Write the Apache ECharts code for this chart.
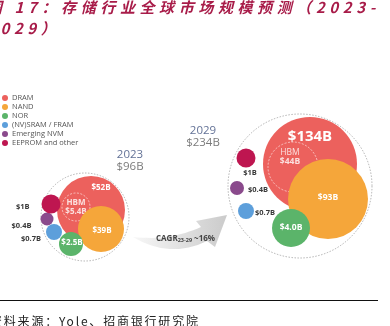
<!DOCTYPE html>
<html>
<head>
<meta charset="utf-8">
<script src="https://cdn.jsdelivr.net/npm/echarts@6/dist/echarts.min.js"></script>
<style>
html,body{margin:0;padding:0;background:#fff;}
#chart{width:390px;height:326px;}
</style>
</head>
<body>
<div id="chart"></div>
<script>
// ---------- data ----------
const titleLine1 = '图 17：存储行业全球市场规模预测（2023-';
const titleLine2 = '2029）';
const sourceText = '资料来源：Yole、招商银行研究院';
const categories = ['DRAM', 'NAND', 'NOR', '(NV)SRAM / FRAM', 'Emerging NVM', 'EEPROM and other'];
const years = ['2023', '2029'];
const values2023 = [52, 39, 2.5, 0.7, 0.4, 1];
const values2029 = [134, 93, 4.0, 0.7, 0.4, 1];
const hbmValues = [5.4, 44];
const totals = [96, 234];
const cagrPeriod = '23-29';
const cagrValue = '~16%';

// ---------- layout (positions / sizes, pixel units of the hidden grid) ----------
const clusterLayout = [{cx: 85, cy: 217, r: 44}, {cx: 300, cy: 186, r: 72}];
const bubbleLayout = [
  // [cx, cy, r] for 2023, 2029
  [[91, 210, 34], [310, 164, 47]],   // DRAM
  [[101, 229, 23], [328, 199, 40]],  // NAND
  [[71, 244, 12], [291, 228, 19]],   // NOR
  [[54, 232, 8], [246, 211, 8]],     // SRAM
  [[47, 219, 6.5], [237, 188, 7]],   // Emerging
  [[51, 204, 9.5], [246, 158, 9.5]]  // EEPROM
];
const hbmLayout = [[76, 207, 14], [293, 167, 25]];
const colors = ['#ec615d', '#f5a63a', '#5bb46a', '#5d9fdb', '#8a4a8c', '#be1650'];

// letter spacing for the report-style title/source text
const SPACED = {};
SPACED[titleLine1] = 4.6; SPACED[titleLine2] = 4.6; SPACED[sourceText] = 1.8;
const origFill = CanvasRenderingContext2D.prototype.fillText;
CanvasRenderingContext2D.prototype.fillText = function (t, x, y, m) {
  const ls = SPACED[t];
  const args = Array.prototype.slice.call(arguments);
  if (ls != null && 'letterSpacing' in this) {
    this.save();
    this.letterSpacing = ls + 'px';
    origFill.apply(this, args);
    this.letterSpacing = '0px';
    this.restore();
    const f = this.font; this.font = f;
  } else {
    origFill.apply(this, args);
  }
};

function fmt(v) { return '$' + ((v >= 2 && v < 10) ? v.toFixed(1) : String(v)) + 'B'; }

const FONT = 'Open Sans';
const whiteLbl = (size, extra) => Object.assign({show: true, position: 'inside', color: '#fff', fontWeight: 'bold', fontSize: size, fontFamily: FONT}, extra || {});
const darkLbl = (extra) => Object.assign({show: true, color: '#3a3a3a', fontWeight: 'bold', fontSize: 7.5, fontFamily: FONT}, extra || {});

// label settings per category/year
const labelCfg = [
  [whiteLbl(8, {offset: [10, -22]}), whiteLbl(15, {offset: [0, -27]})],
  [whiteLbl(8, {offset: [1, 2]}), whiteLbl(8.5, {offset: [0, -1]})],
  [whiteLbl(8, {offset: [1, -1]}), whiteLbl(8.5, {offset: [0, 0]})],
  [darkLbl({position: 'left', distance: 5, offset: [0, 7]}), darkLbl({position: 'right', distance: 1, offset: [0, 2]})],
  [darkLbl({position: 'left', distance: 9, offset: [0, 7]}), darkLbl({position: 'right', distance: 4, offset: [0, 2]})],
  [darkLbl({position: 'left', distance: 12, offset: [0, 3]}), darkLbl({position: 'bottom', distance: 1, offset: [4, 0]})]
];
const zOrder = [3, 5, 6, 6, 6, 6];

const series = [];
// outer dotted cluster circles
series.push({
  type: 'scatter', name: 'total', z: 1, silent: true,
  data: years.map((y, k) => ({
    value: [clusterLayout[k].cx, clusterLayout[k].cy, totals[k]],
    symbolSize: clusterLayout[k].r * 2,
    label: {
      show: true, position: 'inside',
      offset: k === 0 ? [45, -56] : [-97, -49],
      formatter: '{y|' + y + '}\n{t|$' + totals[k] + 'B}',
      rich: {
        y: {fontSize: 11.5, color: '#3b4d7c', fontFamily: FONT, lineHeight: 12, align: 'center'},
        t: {fontSize: 11.5, color: '#5a5a5a', fontFamily: FONT, lineHeight: 12, align: 'center'}
      }
    }
  })),
  itemStyle: {color: 'rgba(255,255,255,0)', borderColor: '#8a8a8a', borderWidth: 0.8, borderType: [1.5, 1.5]}
});

categories.forEach((c, i) => {
  const vals = [values2023[i], values2029[i]];
  series.push({
    type: 'scatter', name: c, z: zOrder[i], silent: true,
    itemStyle: {color: colors[i], opacity: 1},
    data: years.map((y, k) => {
      const L = bubbleLayout[i][k];
      return {
        value: [L[0], L[1], vals[k]],
        symbolSize: L[2] * 2,
        label: Object.assign({formatter: fmt(vals[k])}, labelCfg[i][k])
      };
    })
  });
});

// HBM dashed sub-circle (part of DRAM)
series.push({
  type: 'scatter', name: 'HBM', z: 4, silent: true,
  itemStyle: {color: 'rgba(255,255,255,0)', borderColor: 'rgba(255,255,255,0.9)', borderWidth: 0.8, borderType: [2, 1.5]},
  data: years.map((y, k) => ({
    value: [hbmLayout[k][0], hbmLayout[k][1], hbmValues[k]],
    symbolSize: hbmLayout[k][2] * 2,
    label: {
      show: true, position: 'inside',
      offset: k === 0 ? [0, 0] : [-3, -10],
      formatter: '{h|HBM}\n{v|' + fmt(hbmValues[k]) + '}',
      rich: {
        h: {color: '#fff', fontSize: k === 0 ? 8 : 8.5, fontWeight: k === 0 ? 'bold' : 'normal', fontFamily: FONT, lineHeight: 9.5, align: 'center'},
        v: {color: '#fff', fontSize: k === 0 ? 8 : 8.5, fontWeight: 'bold', fontFamily: FONT, lineHeight: 9.5, align: 'center'}
      }
    }
  }))
});

// arrow geometry (decorative)
function quad(p0, p1, p2, n) {
  const pts = [];
  for (let s = 0; s <= n; s++) {
    const t = s / n, a = (1 - t) * (1 - t), b = 2 * (1 - t) * t, d = t * t;
    pts.push([a * p0[0] + b * p1[0] + d * p2[0], a * p0[1] + b * p1[1] + d * p2[1]]);
  }
  return pts;
}
const arrowPts = []
  .concat(quad([133, 237], [170, 241], [201, 227], 16))
  .concat([[196, 221], [227, 215], [215, 247]])
  .concat(quad([207, 241], [170, 259], [133, 237], 16));

const chart = echarts.init(document.getElementById('chart'), null, {renderer: 'canvas'});
chart.setOption({
  animation: false,
  backgroundColor: '#fff',
  grid: {left: 0, right: 0, top: 0, bottom: 0},
  xAxis: {type: 'value', min: 0, max: 390, show: false},
  yAxis: {type: 'value', min: 0, max: 326, inverse: true, show: false},
  legend: {
    orient: 'vertical', left: -3, top: 89, icon: 'circle',
    itemWidth: 6, itemHeight: 6, itemGap: 1, selectedMode: false,
    data: categories,
    textStyle: {fontSize: 7.5, color: '#555', fontFamily: FONT, lineHeight: 7, padding: [0, 0, 0, -1]}
  },
  graphic: [
    {type: 'text', left: -13, top: 0, silent: true,
      style: {text: titleLine1, fill: '#a81c49', fontSize: 15, fontWeight: 'bold', fontStyle: 'italic', fontFamily: 'Noto Sans CJK SC'}},
    {type: 'text', left: -13, top: 21, silent: true,
      style: {text: titleLine2, fill: '#a81c49', fontSize: 15, fontWeight: 'bold', fontStyle: 'italic', fontFamily: 'Noto Sans CJK SC'}},
    {type: 'polygon', silent: true, z: 0,
      shape: {points: arrowPts},
      style: {fill: {type: 'linear', x: 0, y: 0, x2: 1, y2: 0, colorStops: [{offset: 0, color: '#f7f7f7'}, {offset: 1, color: '#cbcbcb'}]}}},
    {type: 'text', x: 156, y: 238, silent: true, z: 10,
      style: {text: '{m|CAGR}{s|' + cagrPeriod + '}{m| ' + cagrValue + '}', verticalAlign: 'middle',
        rich: {m: {fontSize: 8, fontWeight: 'bold', fill: '#444', fontFamily: FONT, lineHeight: 10, verticalAlign: 'bottom'},
               s: {fontSize: 5.5, fontWeight: 'bold', fill: '#444', fontFamily: FONT, lineHeight: 9, verticalAlign: 'bottom'}}}},
    {type: 'line', silent: true, shape: {x1: 0, y1: 300.5, x2: 378, y2: 300.5}, style: {stroke: '#111', lineWidth: 1}},
    {type: 'text', left: -10, top: 315, silent: true,
      style: {text: sourceText, fill: '#222', fontSize: 12, fontFamily: 'Noto Sans CJK SC'}}
  ],
  series: series
});
</script>
</body>
</html>
